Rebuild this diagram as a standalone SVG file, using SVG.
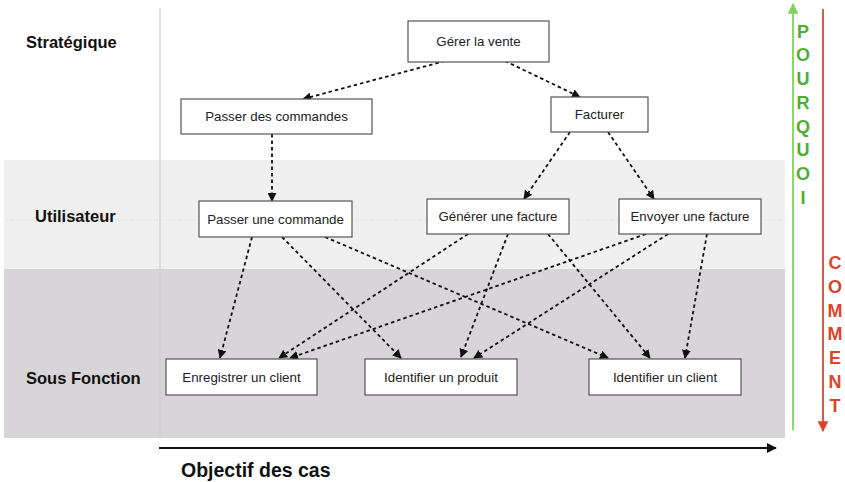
<svg xmlns="http://www.w3.org/2000/svg" width="845" height="482" viewBox="0 0 845 482">
<style>
.lbl{font-family:"Liberation Sans",Arial,sans-serif;font-weight:bold;font-size:16.5px;fill:#111}
.node rect{fill:#fff;stroke:#555;stroke-width:1.2}
.node text{font-family:"Liberation Sans",Arial,sans-serif;font-size:13.3px;fill:#222;text-anchor:middle}
.con line{stroke:#111;stroke-width:1.8;stroke-dasharray:3.5 3;marker-end:url(#ah)}
.g{font-family:"Liberation Sans",Arial,sans-serif;font-weight:bold;font-size:18px;fill:#4fae2f;text-anchor:middle}
.r{font-family:"Liberation Sans",Arial,sans-serif;font-weight:bold;font-size:18px;fill:#e0432b;text-anchor:middle}
</style>
<defs>
<marker id="ah" viewBox="0 0 10 10" refX="9" refY="5" markerWidth="5" markerHeight="5" markerUnits="strokeWidth" orient="auto">
<path d="M0,0 L10,5 L0,10 z" fill="#111"/>
</marker>
<marker id="ahb" viewBox="0 0 10 10" refX="9" refY="5" markerWidth="5" markerHeight="5" orient="auto">
<path d="M0,0 L10,5 L0,10 z" fill="#111"/>
</marker>
<marker id="ahg" viewBox="0 0 10 10" refX="9" refY="5" markerWidth="6" markerHeight="6" orient="auto">
<path d="M0,0 L10,5 L0,10 z" fill="#7fd35b"/>
</marker>
<marker id="ahr" viewBox="0 0 10 10" refX="9" refY="5" markerWidth="6" markerHeight="6" orient="auto">
<path d="M0,0 L10,5 L0,10 z" fill="#e0432b"/>
</marker>
</defs>
<rect width="845" height="482" fill="#fff"/>
<g id="bands">
<rect x="4" y="160" width="781" height="109" fill="#f0f0f0"/>
<rect x="4" y="269" width="781" height="169" fill="#d7d5d7"/>
<line x1="4" y1="220" x2="785" y2="220" stroke="#dcdcdc" stroke-width="1" stroke-dasharray="1 2"/>
<line x1="160" y1="8" x2="160" y2="438" stroke="#cfcfcf" stroke-width="1.2"/>
</g>
<g id="levels">
<text class="lbl" x="26" y="48">Stratégique</text>
<text class="lbl" x="35" y="222">Utilisateur</text>
<text class="lbl" x="26" y="384">Sous Fonction</text>
</g>
<g id="axis">
<line x1="159" y1="448" x2="776" y2="448" stroke="#111" stroke-width="2" marker-end="url(#ahb)"/>
<text x="181" y="477" font-family="Liberation Sans, Arial, sans-serif" font-weight="bold" font-size="19.5" fill="#111">Objectif des cas</text>
</g>
<g id="pourquoi">
<line x1="793" y1="430" x2="793" y2="4" stroke="#7fd35b" stroke-width="1.8" marker-end="url(#ahg)"/>
<text class="g" x="803" y="38">P</text>
<text class="g" x="803" y="61">O</text>
<text class="g" x="803" y="85">U</text>
<text class="g" x="803" y="109">R</text>
<text class="g" x="803" y="133">Q</text>
<text class="g" x="803" y="156">U</text>
<text class="g" x="803" y="180">O</text>
<text class="g" x="803" y="204">I</text>
</g>
<g id="comment">
<line x1="823" y1="9" x2="823" y2="431" stroke="#e0432b" stroke-width="1.8" marker-end="url(#ahr)"/>
<text class="r" x="835" y="269">C</text>
<text class="r" x="835" y="293">O</text>
<text class="r" x="835" y="317">M</text>
<text class="r" x="835" y="340">M</text>
<text class="r" x="835" y="364">E</text>
<text class="r" x="835" y="388">N</text>
<text class="r" x="835" y="412">T</text>
</g>
<g id="connectors" class="con">
<line x1="445" y1="61" x2="303" y2="99"/>
<line x1="505" y1="61" x2="580" y2="97"/>
<line x1="272" y1="134" x2="272" y2="201"/>
<line x1="570" y1="132" x2="524" y2="199"/>
<line x1="608" y1="132" x2="654" y2="199"/>
<line x1="252" y1="237" x2="220" y2="358"/>
<line x1="282" y1="237" x2="401" y2="358"/>
<line x1="325" y1="237" x2="608" y2="358"/>
<line x1="468" y1="234" x2="279" y2="358"/>
<line x1="508" y1="234" x2="461" y2="357"/>
<line x1="548" y1="234" x2="650" y2="358"/>
<line x1="646" y1="234" x2="290" y2="358"/>
<line x1="668" y1="234" x2="474" y2="358"/>
<line x1="707" y1="234" x2="685" y2="358"/>
</g>
<g id="n-gerer" class="node"><rect x="408" y="21" width="141" height="41"/><text x="478.5" y="46">Gérer la vente</text></g>
<g id="n-passer-des" class="node"><rect x="181" y="99" width="191" height="35"/><text x="276.5" y="121">Passer des commandes</text></g>
<g id="n-facturer" class="node"><rect x="551" y="97" width="97" height="35"/><text x="599.5" y="119">Facturer</text></g>
<g id="n-passer-une" class="node"><rect x="199" y="201" width="153" height="36"/><text x="275.5" y="224">Passer une commande</text></g>
<g id="n-generer" class="node"><rect x="427" y="199" width="142" height="35"/><text x="498" y="221">Générer une facture</text></g>
<g id="n-envoyer" class="node"><rect x="619" y="199" width="142" height="35"/><text x="690" y="221">Envoyer une facture</text></g>
<g id="n-enregistrer" class="node"><rect x="166" y="359" width="151" height="36"/><text x="241.5" y="382">Enregistrer un client</text></g>
<g id="n-identifier-produit" class="node"><rect x="365" y="359" width="152" height="36"/><text x="441" y="382">Identifier un produit</text></g>
<g id="n-identifier-client" class="node"><rect x="589" y="359" width="152" height="36"/><text x="665" y="382">Identifier un client</text></g>
</svg>
